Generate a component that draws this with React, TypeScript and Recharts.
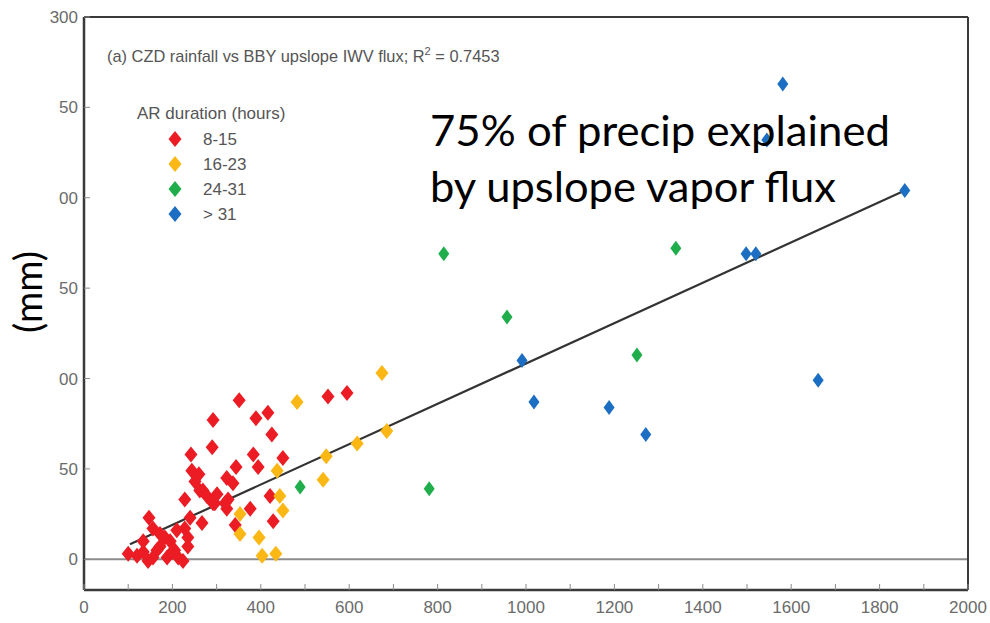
import React from "react";
import { ScatterChart, Scatter, XAxis, YAxis, ReferenceLine } from "recharts";

const W = 990;
const H = 623;

// axis ticks (labels as visible in the picture — the left ones are clipped)
const X_TICKS = [0, 100, 200, 300, 400, 500, 600, 700, 800, 900, 1000, 1100, 1200, 1300, 1400, 1500, 1600, 1700, 1800, 1900, 2000];
const X_TICK_LABELS = ["0", "", "200", "", "400", "", "600", "", "800", "", "1000", "", "1200", "", "1400", "", "1600", "", "1800", "", "2000"];
const Y_TICKS = [0, 50, 100, 150, 200, 250, 300];
const Y_TICK_LABELS = ["0", "50", "00", "50", "00", "50", "300"];

// AR duration 8-15 h
const RED_PTS: [number, number][] = [
  [351, 88], [292, 77], [389, 78], [416, 81], [425, 69], [290, 62], [242, 58], [383, 58],
  [394, 51], [450, 56], [344, 51], [323, 45], [337, 42], [244, 49], [260, 47], [251, 43],
  [262, 38], [228, 33], [278, 35], [292, 31], [323, 28], [326, 33], [376, 28], [421, 35],
  [240, 23], [267, 20], [342, 19], [428, 21], [147, 23], [156, 17], [228, 17], [235, 12],
  [183, 12], [100, 3], [120, 2], [134, 4], [156, 1], [172, 7], [188, 1], [199, 4],
  [213, 1], [224, -1], [235, 7], [134, 10], [195, 10], [172, 14], [210, 16], [552, 90],
  [595, 92], [319, 31], [301, 36], [269, 38], [296, 31], [205, 5], [145, -1], [165, 5],
];
// 16-23 h
const YELLOW_PTS: [number, number][] = [
  [674, 103], [482, 87], [685, 71], [618, 64], [548, 57], [541, 44], [437, 49], [443, 35],
  [450, 27], [353, 25], [353, 14], [396, 12], [403, 2], [434, 3],
];
// 24-31 h
const GREEN_PTS: [number, number][] = [
  [814, 169], [1339, 172], [957, 134], [1251, 113], [489, 40], [781, 39],
];
// > 31 h
const BLUE_PTS: [number, number][] = [
  [1581, 263], [1545, 232], [1857, 204], [1498, 169], [1520, 169], [991, 110],
  [1018, 87], [1188, 84], [1271, 69], [1661, 99],
];

// least squares fit, end points
const FIT_LINE = [{ x: 104, y: 8.3 }, { x: 1857, y: 204 }];

const LEGEND_LABELS = ["8-15", "16-23", "24-31", "> 31"];
const COLORS = ["#ec1c24", "#fbb714", "#1fae4b", "#1b6ec2"];

const AXIS = "#3a3a3a";
const TICK = "#8a8a8a";
const LABEL = "#6b6b6b";
const SANS = "'Liberation Sans', Arial, sans-serif";
const BIG = "Lato, 'Open Sans', sans-serif";

const toXY = (pts: [number, number][]) => pts.map(([x, y]) => ({ x, y }));

function Diamond(props: any) {
  const { cx, cy, fill, w = 6.5, h = 8 } = props;
  if (cx == null || cy == null) return null;
  return (
    <polygon
      points={`${cx},${cy - h} ${cx + w},${cy} ${cx},${cy + h} ${cx - w},${cy}`}
      fill={fill}
    />
  );
}

// MATLAB style: tick marks point into the plot box
function BottomTick({ x, y, payload }: any) {
  const lab = X_TICK_LABELS[X_TICKS.indexOf(payload.value)];
  return (
    <g>
      <line x1={x} x2={x} y1={y} y2={y - 6} stroke={TICK} />
      {lab ? (
        <text x={x} y={y + 23} textAnchor="middle" fontFamily={SANS} fontSize={17} fill={LABEL}>
          {lab}
        </text>
      ) : null}
    </g>
  );
}

function LeftTick({ x, y, payload }: any) {
  const lab = Y_TICK_LABELS[Y_TICKS.indexOf(payload.value)];
  return (
    <g>
      <line x1={x} x2={x + 6} y1={y} y2={y} stroke={TICK} />
      <text x={x - 6} y={y + 6} textAnchor="end" fontFamily={SANS} fontSize={17} fill={LABEL}>
        {lab}
      </text>
    </g>
  );
}

function TopTick({ x, y }: any) {
  return <line x1={x} x2={x} y1={y} y2={y + 6} stroke={TICK} />;
}

function RightTick({ x, y }: any) {
  return <line x1={x} x2={x - 6} y1={y} y2={y} stroke={TICK} />;
}

export default function App() {
  const series = [RED_PTS, YELLOW_PTS, GREEN_PTS, BLUE_PTS];

  return (
    <div style={{ position: "absolute", left: 0, top: 0, width: W, height: H, background: "#fff" }}>
      <ScatterChart width={W} height={H} margin={{ top: 16, right: 21, bottom: 3, left: 24 }}>
        <XAxis
          xAxisId="b" type="number" dataKey="x" domain={[0, 2000]} ticks={X_TICKS} interval={0}
          tickSize={0} tickMargin={0} height={30} tickLine={false}
          axisLine={{ stroke: AXIS, strokeWidth: 2.5 }} tick={<BottomTick />}
        />
        <XAxis
          xAxisId="t" orientation="top" type="number" dataKey="x" domain={[0, 2000]} ticks={X_TICKS}
          interval={0} tickSize={0} tickMargin={0} height={1} tickLine={false}
          axisLine={{ stroke: AXIS, strokeWidth: 2 }} tick={<TopTick />}
        />
        <YAxis
          yAxisId="l" type="number" dataKey="y" domain={[-17, 300]} ticks={Y_TICKS} interval={0}
          tickSize={0} tickMargin={0} width={60} tickLine={false}
          axisLine={{ stroke: AXIS, strokeWidth: 2.5 }} tick={<LeftTick />}
        />
        <YAxis
          yAxisId="r" orientation="right" type="number" dataKey="y" domain={[-17, 300]} ticks={Y_TICKS}
          interval={0} tickSize={0} tickMargin={0} width={1} tickLine={false}
          axisLine={{ stroke: AXIS, strokeWidth: 2 }} tick={<RightTick />}
        />
        <ReferenceLine xAxisId="b" yAxisId="l" y={0} stroke="#8c8c8c" strokeWidth={2} />
        {series.map((pts, i) => (
          <Scatter
            key={i}
            xAxisId="b"
            yAxisId="l"
            data={toXY(pts)}
            fill={COLORS[i]}
            isAnimationActive={false}
            shape={(p: any) => (i < 2 ? <Diamond {...p} /> : <Diamond {...p} w={5.5} h={7.5} />)}
          />
        ))}
        <ReferenceLine
          xAxisId="b" yAxisId="l" segment={FIT_LINE} stroke="#333" strokeWidth={2.2}
          ifOverflow="visible"
        />
      </ScatterChart>

      {/* annotations drawn on top of the plot */}
      <svg width={W} height={H} style={{ position: "absolute", left: 0, top: 0, pointerEvents: "none" }}>
        <text x={107} y={62} fontFamily={SANS} fontSize={16.4} fill="#555">
          (a)  CZD rainfall vs BBY upslope IWV flux; R
          <tspan fontSize={11} dy={-7}>2</tspan>
          <tspan dy={7}> = 0.7453</tspan>
        </text>
        <text x={137} y={119} fontFamily={SANS} fontSize={17} fill="#555">AR duration (hours)</text>
        {LEGEND_LABELS.map((lab, i) => {
          const cy = 139 + i * 25;
          return (
            <g key={lab}>
              <Diamond cx={175} cy={cy} fill={COLORS[i]} />
              <text x={203} y={cy + 6} fontFamily={SANS} fontSize={17} fill="#555">{lab}</text>
            </g>
          );
        })}
        <text x={430} y={146} fontFamily={BIG} fontSize={42} fill="#000" textLength={460} lengthAdjust="spacingAndGlyphs">
          75% of precip explained
        </text>
        <text x={430} y={202} fontFamily={BIG} fontSize={42} fill="#000" textLength={406} lengthAdjust="spacingAndGlyphs">
          by upslope vapor flux
        </text>
        <text
          x={0} y={0} fontFamily={BIG} fontSize={38} fill="#000" textAnchor="middle"
          transform="translate(42 292) rotate(-90)"
        >
          (mm)
        </text>
      </svg>
    </div>
  );
}
